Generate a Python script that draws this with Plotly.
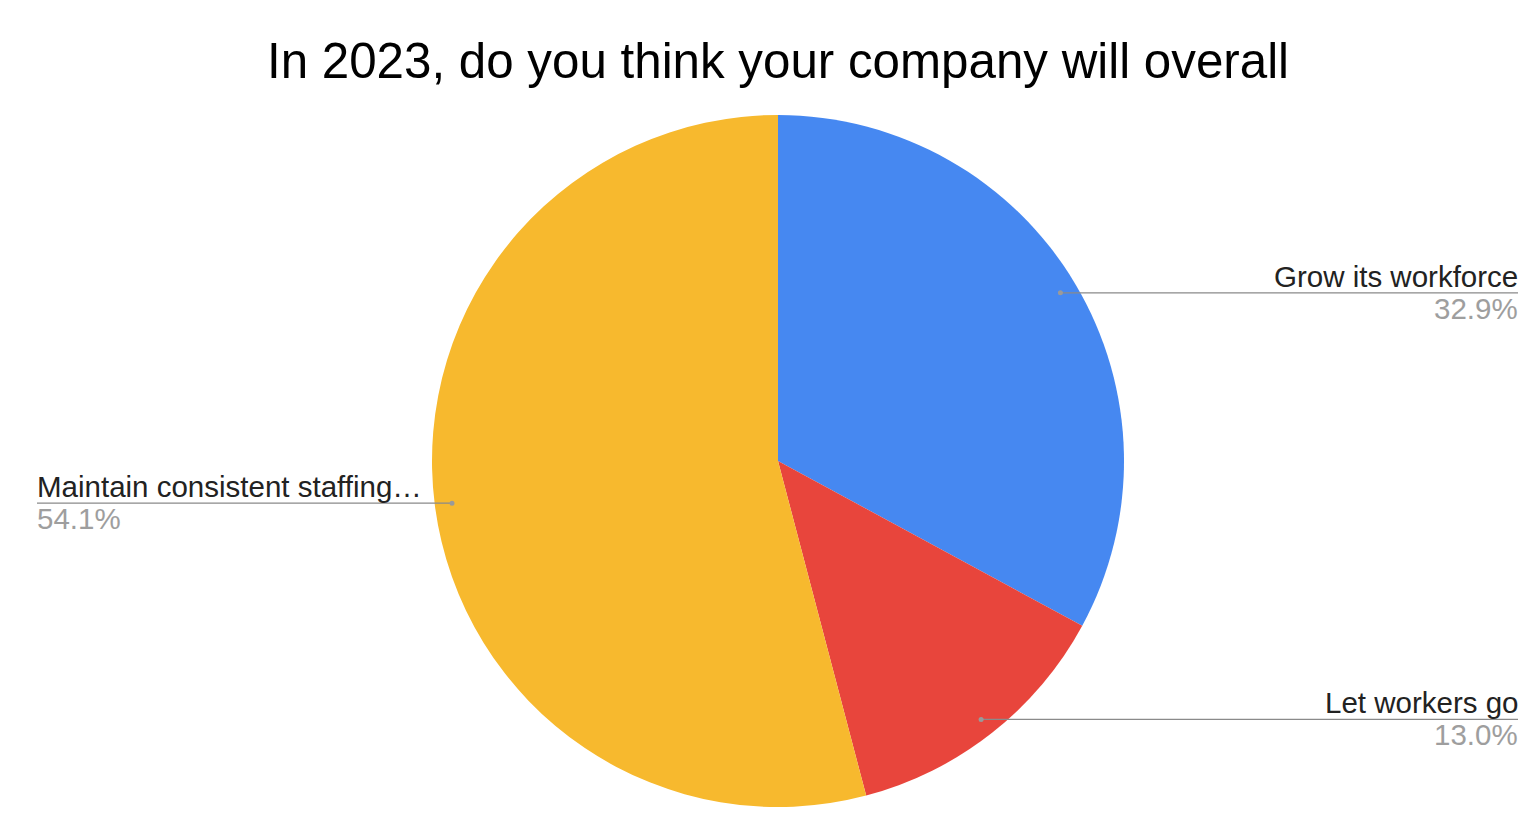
import math
import plotly.graph_objects as go

labels = ["Grow its workforce", "Let workers go", "Maintain consistent staffing…"]
values = [32.9, 13.0, 54.1]
pct_text = ["32.9%", "13.0%", "54.1%"]
colors = ["#4688F1", "#E8453C", "#F7B92E"]
title = "In 2023, do you think your company will overall"

OFF = 8  # default page body margin
W, H = 1536 - 2 * OFF, 840 - 2 * OFF
cx, cy, R = 778 - OFF, 461 - OFF, 346  # pie geometry in figure pixels
dom_x = [(cx - R) / W, (cx + R) / W]
dom_y = [1 - (cy + R) / H, 1 - (cy - R) / H]

fig = go.Figure(go.Pie(
    labels=labels, values=values, sort=False, direction="clockwise", rotation=0,
    marker=dict(colors=colors, line=dict(width=0)),
    textinfo="none", domain=dict(x=dom_x, y=dom_y), showlegend=False,
))

FONT = "Arial, Liberation Sans"
shapes, annotations = [], []
total = sum(values)
cum = 0.0
for lab, v, pt in zip(labels, values, pct_text):
    mid = (cum + v / 2) / total * 2 * math.pi
    cum += v
    px = cx + 0.95 * R * math.sin(mid)
    py = cy - 0.95 * R * math.cos(mid)
    right = math.sin(mid) > 0
    edge = (1518 if right else 37) - OFF
    xd, yd = px / W, 1 - py / H
    xe = edge / W
    shapes.append(dict(type="line", xref="paper", yref="paper", x0=xd, x1=xe, y0=yd, y1=yd,
                       line=dict(color="#8a8a8a", width=1.2)))
    r = 2.5
    shapes.append(dict(type="circle", xref="paper", yref="paper",
                       x0=(px - r) / W, x1=(px + r) / W, y0=1 - (py + r) / H, y1=1 - (py - r) / H,
                       fillcolor="#9a9a9a", line=dict(width=0)))
    anchor = "right" if right else "left"
    xs = 2 if right else -2
    annotations.append(dict(x=xe, y=yd, xref="paper", yref="paper", text=lab, showarrow=False,
                            xanchor=anchor, yanchor="bottom", yshift=-2, xshift=xs,
                            font=dict(family=FONT, size=29.5, color="#222222")))
    annotations.append(dict(x=xe, y=yd, xref="paper", yref="paper", text=pt, showarrow=False,
                            xanchor=anchor, yanchor="top", yshift=3, xshift=xs,
                            font=dict(family=FONT, size=29.5, color="#9e9e9e")))

fig.update_layout(
    width=W, height=H,
    margin=dict(l=0, r=0, t=0, b=0),
    paper_bgcolor="white", plot_bgcolor="white",
    title=dict(text=title, x=(778 - OFF) / W, xanchor="center", y=1 - (61 - OFF) / H, yanchor="middle",
               font=dict(family=FONT, size=49.3, color="#000000")),
    shapes=shapes, annotations=annotations,
)

fig.write_html("out.html")
